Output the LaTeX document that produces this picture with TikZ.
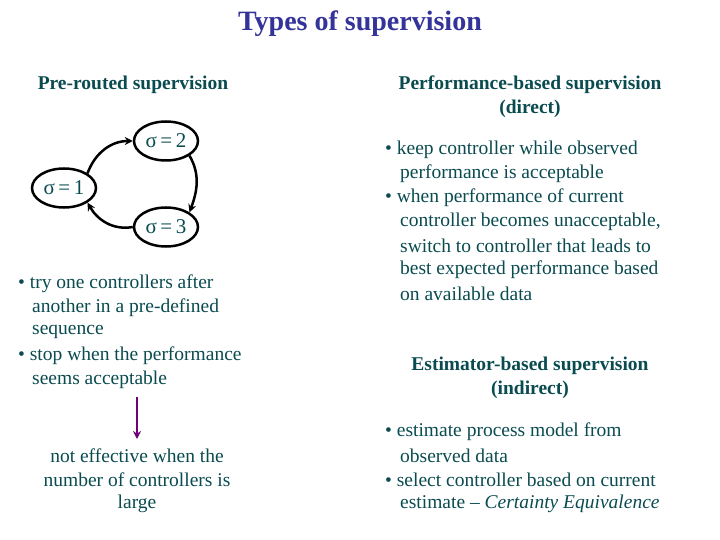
\documentclass[tikz,border=0pt]{standalone}
\usepackage{fontspec}
\setmainfont{Liberation Serif}
\usetikzlibrary{shapes.geometric,arrows.meta}
\definecolor{navy}{RGB}{51,51,153}
\definecolor{teal2}{RGB}{10,75,80}
\definecolor{purp}{RGB}{110,0,120}
\begin{document}
\begin{tikzpicture}[x=1pt,y=-1pt,
  txt/.style={anchor=west,inner sep=0pt,yshift=-2pt,text=teal2,font=\fontsize{19.5}{22}\selectfont},
  ctr/.style={inner sep=0pt,yshift=-2pt,text=teal2,font=\fontsize{19.5}{22}\selectfont},
  hd/.style={inner sep=0pt,yshift=-2pt,text=teal2,font=\fontsize{19.5}{22}\selectfont\bfseries},
  st/.style={ellipse,draw=black,line width=2.5pt,minimum width=64,minimum height=39,inner sep=0pt,text=teal2,font=\fontsize{21}{22}\selectfont},
  arr/.style={line width=2.5pt,-{Stealth[length=8pt,width=8pt]}}]
\useasboundingbox (0,0) rectangle (720,540);
\node[inner sep=0pt,text=navy,font=\fontsize{28}{30}\selectfont\bfseries] (title) at (360,24) {Types of supervision};
\node[hd] (h1) at (133,83) {Pre-routed supervision};
\node[hd] (h2) at (530,83) {Performance-based supervision};
\node[hd] (h2b) at (530,107) {(direct)};
\node[st] (s1) at (64,188) {σ\,=\,1};
\node[st] (s2) at (166,141) {σ\,=\,2};
\node[st] (s3) at (166,227) {σ\,=\,3};
\draw[arr] (s1.north east) to[out=70,in=180] (s2.west);
\draw[arr] (s2.south east) to[out=-60,in=70] (s3.north east);
\draw[arr] (s3.west) to[out=190,in=-60] (s1.south east);
\node[txt] (l1) at (18,282) {\textbullet\ try one controllers after};
\node[txt] (l2) at (32,306) {another in a pre-defined};
\node[txt] (l3) at (32,330) {sequence};
\node[txt] (l4) at (18,354) {\textbullet\ stop when the performance};
\node[txt] (l5) at (32,378) {seems acceptable};
\coordinate (a1) at (137,397);
\coordinate (a2) at (137,439);
\draw[purp,line width=2.5pt,-{Stealth[length=8pt,width=8pt]}] (a1) -- (a2);
\node[ctr] (b1) at (137,454) {not effective when the};
\node[ctr] (b2) at (137,478) {number of controllers is};
\node[ctr] (b3) at (137,502) {large};
\node[txt] (r1) at (385,148) {\textbullet\ keep controller while observed};
\node[txt] (r2) at (400,172) {performance is acceptable};
\node[txt] (r3) at (385,196) {\textbullet\ when performance of current};
\node[txt] (r4) at (400,220) {controller becomes unacceptable,};
\node[txt] (r5) at (400,244) {switch to controller that leads to};
\node[txt] (r6) at (400,268) {best expected performance based};
\node[txt] (r7) at (400,292) {on available data};
\node[hd] (h3) at (530,364) {Estimator-based supervision};
\node[hd] (h3b) at (530,388) {(indirect)};
\node[txt] (e1) at (385,430) {\textbullet\ estimate process model from};
\node[txt] (e2) at (400,454) {observed data};
\node[txt] (e3) at (385,478) {\textbullet\ select controller based on current};
\node[txt] (e4) at (400,502) {estimate -- \textit{Certainty Equivalence}};
\end{tikzpicture}
\end{document}
